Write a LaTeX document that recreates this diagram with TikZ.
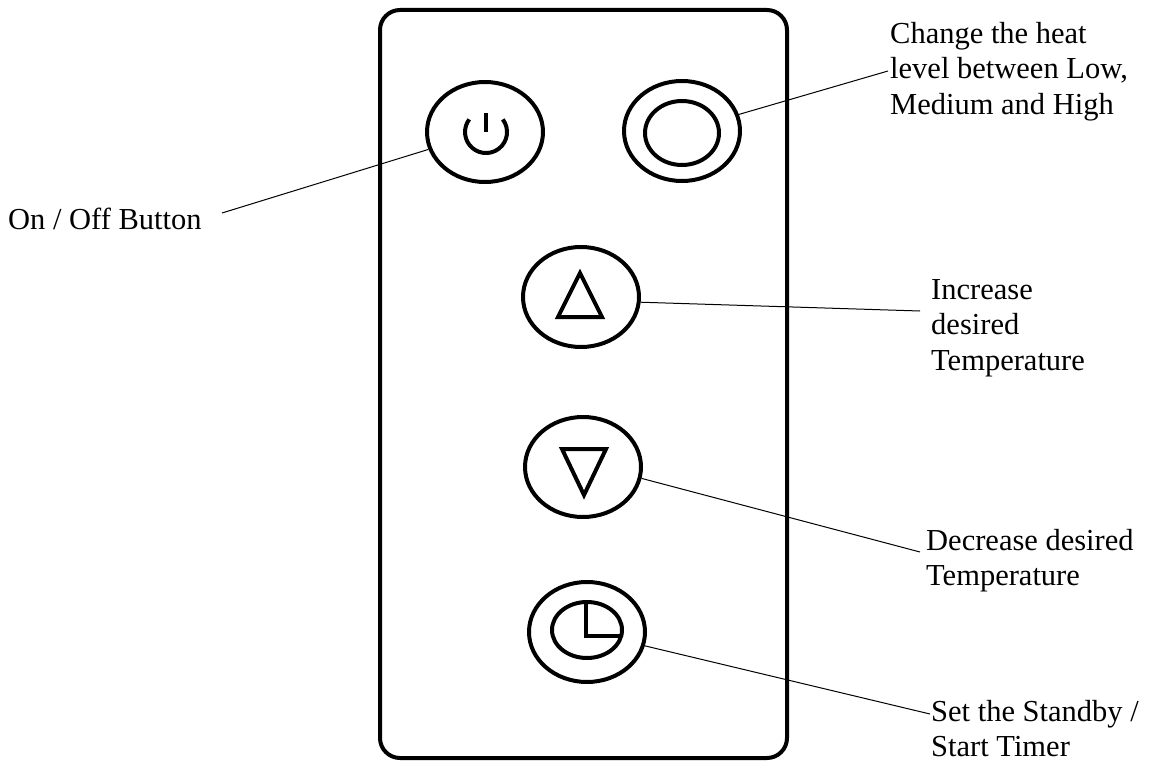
\documentclass[tikz,border=0pt]{standalone}
\usepackage{fontspec}
\setmainfont{Liberation Serif}
\usetikzlibrary{shapes.geometric}
\tikzset{
  button/.style={ellipse,draw,line width=4pt,minimum width=116pt,minimum height=100pt,inner sep=0pt},
  ring/.style={ellipse,draw,line width=4pt,inner sep=0pt},
  note/.style={align=left,anchor=north west,inner sep=0pt,font=\fontsize{30.5}{35.5}\selectfont},
  glyph/.style={line width=4pt,line join=miter},
  lead/.style={line width=1pt}
}
\begin{document}
\begin{tikzpicture}[x=1pt,y=-1pt]
  \useasboundingbox (0,0) rectangle (1154,762);
  \draw[line width=4pt,rounded corners=20pt] (380,10) rectangle (787,758);

  \node[button] (power) at (485,132) {};
  \node[button] (heat) at (682,131) {};
  \node[ring,minimum width=74pt,minimum height=64pt] (heatring) at (682,133) {};
  \node[button] (up) at (581,297) {};
  \node[button] (down) at (583,467) {};
  \node[button] (timer) at (587,632) {};
  \node[ring,minimum width=70pt,minimum height=56pt] (timerring) at (587,630) {};

  % icons
  \draw[glyph] (486,113) -- (486,132);
  \draw[glyph] (502.8,119.4) arc[start angle=-37,end angle=217,radius=21];
  \draw[glyph] (580,273) -- (602,317) -- (558,317) -- cycle;
  \draw[glyph] (562,449) -- (606,449) -- (584,495) -- cycle;
  \draw[glyph] (586,602) -- (586,636) -- (620,636);

  \node[note] (onoff) at (8,208) {On / Off Button};
  \node[note] (heatnote) at (890,22) {Change the heat\\level between Low,\\Medium and High};
  \node[note] (upnote) at (931,279) {Increase\\desired\\Temperature};
  \node[note] (downnote) at (926,529) {Decrease desired\\Temperature};
  \node[note] (timernote) at (931,700) {Set the Standby /\\Start Timer};

  \coordinate (onoffend) at (222,213);
  \coordinate (heatend) at (888,71);
  \coordinate (upend) at (920,311);
  \coordinate (downend) at (920,552);
  \coordinate (timerend) at (930,714);
  \draw[lead] (onoffend) -- (power);
  \draw[lead] (heatend) -- (heat);
  \draw[lead] (upend) -- (up.-5);
  \draw[lead] (downend) -- (down.-11);
  \draw[lead] (timerend) -- (timer);
\end{tikzpicture}
\end{document}
